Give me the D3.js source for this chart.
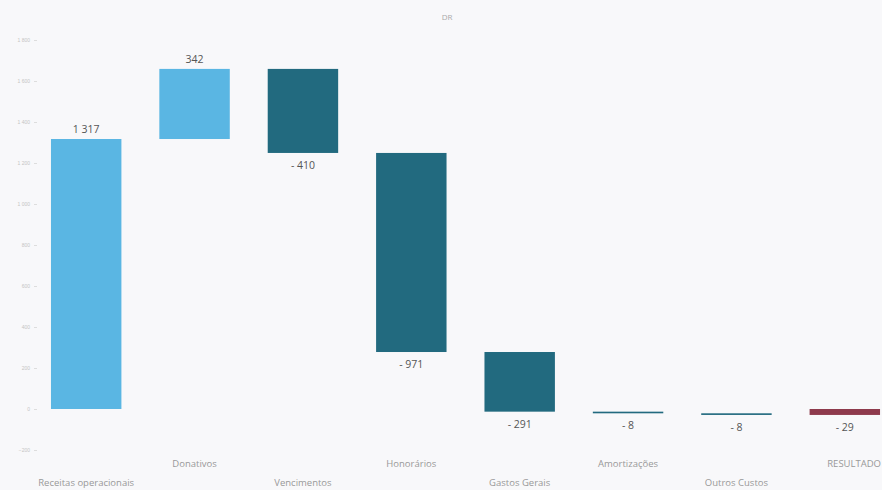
<!DOCTYPE html>
<html>
<head>
<meta charset="utf-8">
<script src="https://cdn.jsdelivr.net/npm/d3@7"></script>
<style>
  html, body { margin: 0; padding: 0; background: #f8f8fa; }
  svg { display: block; font-family: "Open Sans", "DejaVu Sans", sans-serif; }
</style>
</head>
<body>
<svg id="chart" width="882" height="490"></svg>
<script>
const categories = ['Receitas operacionais', 'Donativos', 'Vencimentos', 'Honorários',
  'Gastos Gerais', 'Amortizações', 'Outros Custos', 'RESULTADO'];
const deltas = [1317, 342, -410, -971, -291, -8, -8, -29];
const yTicks = [-200, 0, 200, 400, 600, 800, 1000, 1200, 1400, 1600, 1800];

const width = 882;
const height = 490;

const svg = d3.select('#chart');

// running totals for the waterfall, the last one is the result bar from 0
let running = 0;
const steps = categories.map((c, i) => {
  const isTotal = i === categories.length - 1;
  let start, end;
  if (isTotal) {
    start = 0;
    end = deltas[i];
  } else {
    start = running;
    end = running + deltas[i];
    running = end;
  }
  return { name: c, value: deltas[i], start, end, isTotal };
});

const x = d3.scaleBand()
  .domain(categories)
  .range([32, 899])
  .paddingInner(0.35)
  .paddingOuter(0.175);

const y = d3.scaleLinear()
  .domain([-200, 1800])
  .range([450, 40]);

const fmt = v => {
  const s = d3.format(',')(Math.abs(v)).replace(/,/g, ' ');
  return v < 0 ? '- ' + s : s;
};

const color = d => d.isTotal ? '#8e3a4c' : (d.value >= 0 ? '#5ab6e3' : '#226a7f');

// title
svg.append('text')
  .attr('x', 447).attr('y', 20)
  .attr('text-anchor', 'middle')
  .attr('font-size', 8)
  .attr('fill', '#aaa')
  .text('DR');

// y axis, very faint
const yAxis = svg.append('g')
  .attr('transform', 'translate(37,0)')
  .call(d3.axisLeft(y).tickValues(yTicks).tickSize(3).tickPadding(4)
    .tickFormat(v => d3.format(',')(v).replace(/,/g, ' ')));
yAxis.select('.domain').remove();
yAxis.selectAll('line').attr('stroke', '#ddd');
yAxis.selectAll('text').attr('font-size', 5).attr('fill', '#c4c4c4');

// bars
svg.append('g').selectAll('rect')
  .data(steps)
  .join('rect')
  .attr('x', d => x(d.name))
  .attr('width', x.bandwidth())
  .attr('y', d => y(Math.max(d.start, d.end)))
  .attr('height', d => Math.max(1.5, Math.abs(y(d.start) - y(d.end))))
  .attr('fill', color);

// value labels
svg.append('g').selectAll('text')
  .data(steps)
  .join('text')
  .attr('x', d => x(d.name) + x.bandwidth() / 2)
  .attr('y', d => d.value >= 0 ? y(d.end) - 6 : y(Math.min(d.start, d.end)) + 16)
  .attr('text-anchor', 'middle')
  .attr('font-size', 10.5)
  .attr('fill', '#555')
  .text(d => fmt(d.value));

// category labels, staggered in two rows
svg.append('g').selectAll('text')
  .data(categories)
  .join('text')
  .attr('x', (d, i) => i === categories.length - 1 ? width - 1 : x(d) + x.bandwidth() / 2)
  .attr('y', (d, i) => i % 2 === 0 ? 486 : 467)
  .attr('text-anchor', (d, i) => i === categories.length - 1 ? 'end' : 'middle')
  .attr('font-size', 9.5)
  .attr('fill', '#999')
  .text(d => d);
</script>
</body>
</html>
